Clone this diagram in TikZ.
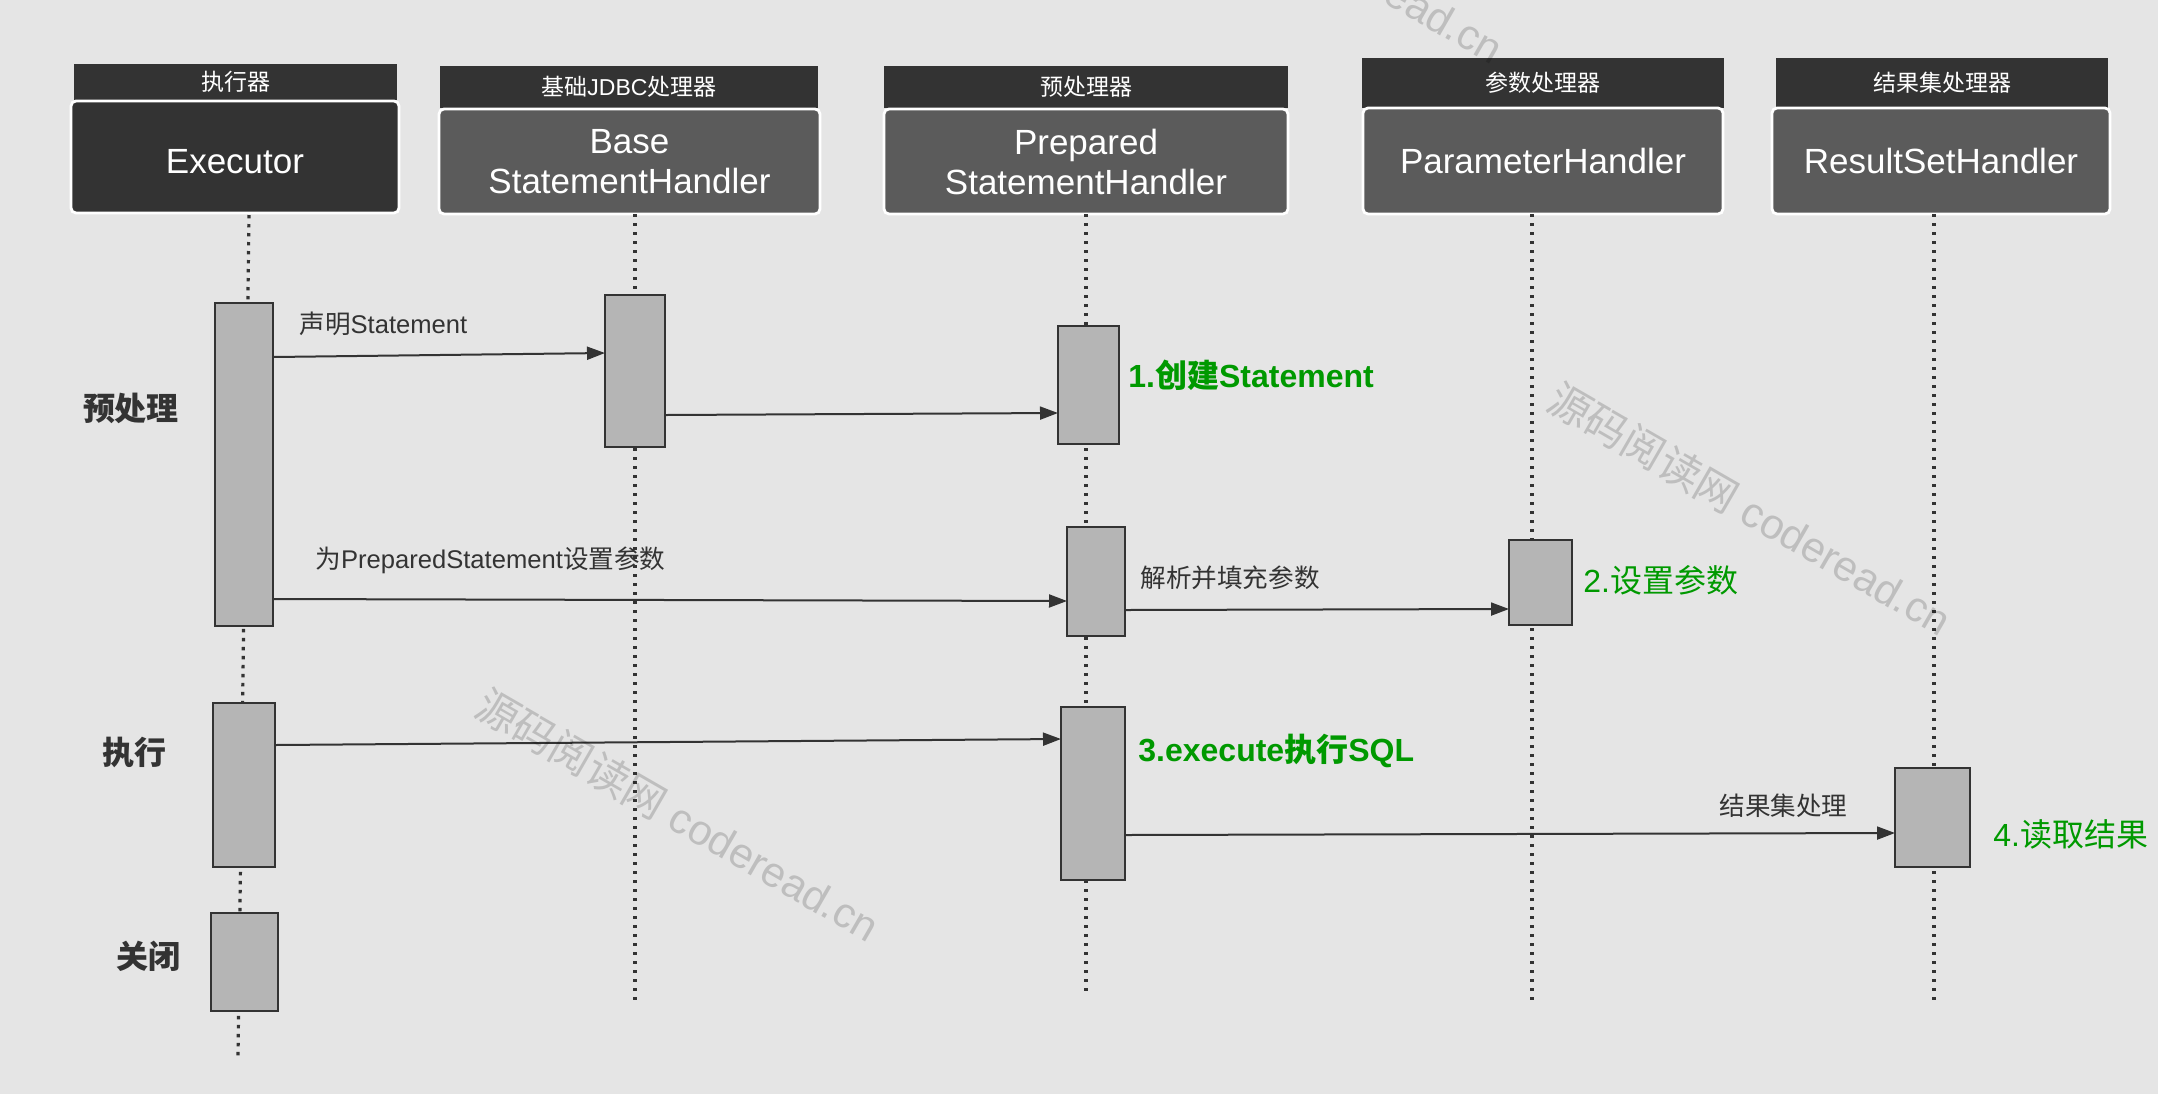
\documentclass[tikz,border=0pt]{standalone}
\usepackage{fontspec}
\setmainfont{Liberation Sans}
\newfontfamily\cjk{Noto Sans CJK SC}
\usetikzlibrary{arrows.meta}
\newcommand\zh[1]{{\cjk #1}}
\definecolor{cdark}{HTML}{333333}
\definecolor{cbody}{HTML}{5B5B5B}
\definecolor{cact}{HTML}{B5B5B5}
\definecolor{cbg}{HTML}{E5E5E5}
\definecolor{cgreen}{RGB}{0,153,0}
% style, name, x1, y1, x2, y2, text
\newcommand\rectnode[7]{%
  \node[#1, minimum width={(#5-#3)*0.5pt}, minimum height={(#6-#4)*0.5pt}]
    (#2) at ({(#3+#5)/2},{(#4+#6)/2}) {#7};}
\tikzset{
  hdr/.style={fill=cdark, draw=none, text=white, inner sep=0pt, outer sep=0pt,
    font=\fontsize{11.5}{14}\selectfont},
  body/.style={draw=white, line width=1.4pt, rounded corners=2.5pt, text=white,
    inner sep=0pt, outer sep=0pt, align=center,
    font=\fontsize{17.5}{20}\selectfont},
  act/.style={fill=cact, draw=cdark, line width=1pt, inner sep=0pt, outer sep=0pt},
  life/.style={draw=cdark, line width=1.6pt, dash pattern=on 1.7pt off 2.8pt},
  msg/.style={draw=cdark, line width=1pt, -{Triangle[length=9pt,width=6.5pt]}},
  lbl/.style={text=cdark, inner sep=0pt, anchor=west, font=\fontsize{12.8}{15}\selectfont},
  phase/.style={text=cdark, inner sep=0pt, font=\fontsize{16}{18}\selectfont\bfseries},
  note/.style={text=cgreen, inner sep=0pt, anchor=west, font=\fontsize{16}{18}\selectfont},
  wm/.style={text=black, text opacity=0.17, inner sep=0pt, rotate=-30,
    font=\fontsize{21.2}{25}\selectfont},
}
\begin{document}
\begin{tikzpicture}[x=0.5pt, y=-0.5pt]
\fill[cbg] (0,0) rectangle (2158,1094);
\useasboundingbox (0,0) rectangle (2158,1094);

% header strips
\rectnode{hdr}{h1}{74}{64}{397}{100}{\zh{执行器}}
\rectnode{hdr}{h2}{440}{66}{818}{108}{\zh{基础}JDBC\zh{处理器}}
\rectnode{hdr}{h3}{884}{66}{1288}{108}{\zh{预处理器}}
\rectnode{hdr}{h4}{1362}{58}{1724}{108}{\zh{参数处理器}}
\rectnode{hdr}{h5}{1776}{58}{2108}{108}{\zh{结果集处理器}}

% bodies
\rectnode{body, fill=cdark}{b1}{71}{101}{399}{213}{\raisebox{-2.2pt}[\height][\depth]{Executor}}
\rectnode{body, fill=cbody}{b2}{439}{109}{820}{214}{Base\\StatementHandler}
\rectnode{body, fill=cbody}{b3}{884}{109}{1288}{214}{Prepared\\StatementHandler}
\rectnode{body, fill=cbody}{b4}{1363}{108}{1723}{214}{ParameterHandler}
\rectnode{body, fill=cbody}{b5}{1772}{108}{2110}{214}{ResultSetHandler}

% lifeline ends
\coordinate (e1) at (238,1056);
\coordinate (e2) at (635,1000);
\coordinate (e3) at (1086,993);
\coordinate (e4) at (1532,1005);
\coordinate (e5) at (1934,1001);
\draw[life] (249,215) -- (e1);
\draw[life] (b2.south -| e2) -- (e2);
\draw[life] (b3.south -| e3) -- (e3);
\draw[life] (b4.south -| e4) -- (e4);
\draw[life] (b5.south -| e5) -- (e5);

% activation boxes
\rectnode{act}{x1}{215}{303}{273}{626}{}
\rectnode{act}{x2}{213}{703}{275}{867}{}
\rectnode{act}{x3}{211}{913}{278}{1011}{}
\rectnode{act}{bs}{605}{295}{665}{447}{}
\rectnode{act}{p1}{1058}{326}{1119}{444}{}
\rectnode{act}{p2}{1067}{527}{1125}{636}{}
\rectnode{act}{p3}{1061}{707}{1125}{880}{}
\rectnode{act}{pa}{1509}{540}{1572}{625}{}
\rectnode{act}{rs}{1895}{768}{1970}{867}{}

% messages
\draw[msg] (x1.east |- 0,357) -- (bs.west |- 0,353);
\draw[msg] (bs.east |- 0,415) -- (p1.west |- 0,413);
\draw[msg] (x1.east |- 0,599) -- (p2.west |- 0,601);
\draw[msg] (p2.east |- 0,610) -- (pa.west |- 0,609);
\draw[msg] (x2.east |- 0,745) -- (p3.west |- 0,739);
\draw[msg] (p3.east |- 0,835) -- (rs.west |- 0,833);

% message labels
\node[lbl] (l1) at (299,324) {\zh{声明}Statement};
\node[lbl] (l2) at (315,560) {\zh{为}PreparedStatement\zh{设置参数}};
\node[lbl] (l3) at (1140,578) {\zh{解析并填充参数}};
\node[lbl] (l4) at (1719,806) {\zh{结果集处理}};

% phase labels
\node[phase] (ph1) at (131,408) {\zh{预处理}};
\node[phase] (ph2) at (134,752) {\zh{执行}};
\node[phase] (ph3) at (148,956) {\zh{关闭}};

% green notes
\node[note, font=\fontsize{16}{18}\selectfont\bfseries] (n1) at (1128,375) {1.\zh{创建}Statement};
\node[note] (n2) at (1583,580) {2.\zh{设置参数}};
\node[note, font=\fontsize{16}{18}\selectfont\bfseries] (n3) at (1138,751) {3.execute\zh{执行}SQL};
\node[note] (n4) at (1993,834) {4.\zh{读取结果}};

% watermarks
\begin{scope}
\clip (0,0) rectangle (2158,1094);
\node[wm] (w1) at (678,815) {\zh{源码阅读网} coderead.cn};
\node[wm] (w2) at (1750,509) {\zh{源码阅读网} coderead.cn};
\node[wm] (w3) at (1302,-63) {\zh{源码阅读网} coderead.cn};
\end{scope}
\end{tikzpicture}
\end{document}
